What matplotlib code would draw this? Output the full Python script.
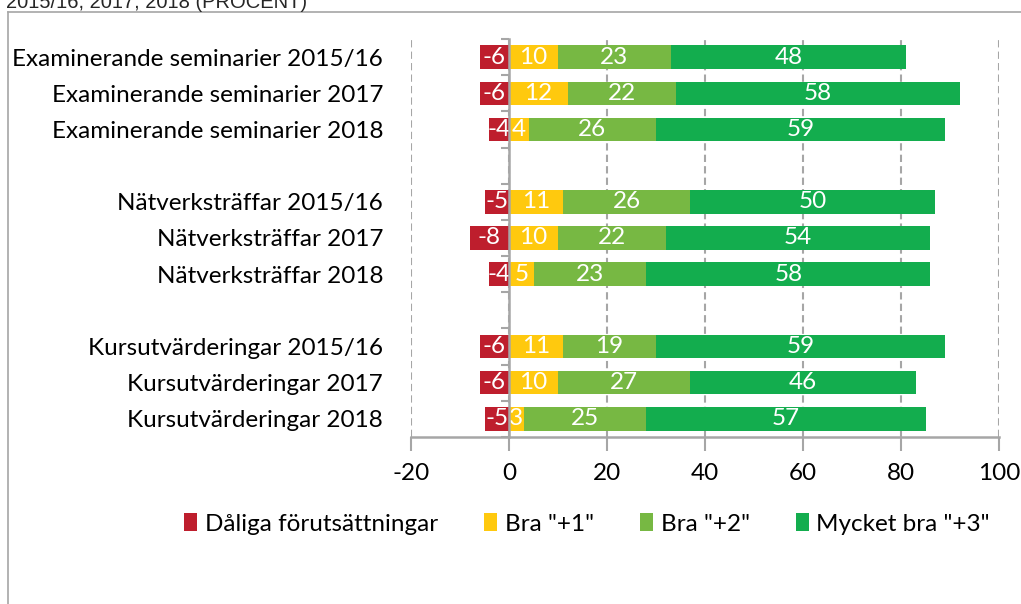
import matplotlib
matplotlib.use("Agg")
import matplotlib.pyplot as plt
from matplotlib.lines import Line2D
import numpy as np

categories = [
    "Examinerande seminarier 2015/16",
    "Examinerande seminarier 2017",
    "Examinerande seminarier 2018",
    "",
    "Nätverksträffar 2015/16",
    "Nätverksträffar 2017",
    "Nätverksträffar 2018",
    "",
    "Kursutvärderingar 2015/16",
    "Kursutvärderingar 2017",
    "Kursutvärderingar 2018",
]
daliga = [-6, -6, -4, None, -5, -8, -4, None, -6, -6, -5]
bra1 = [10, 12, 4, None, 11, 10, 5, None, 11, 10, 3]
bra2 = [23, 22, 26, None, 26, 22, 23, None, 19, 27, 25]
mycket = [48, 58, 59, None, 50, 54, 58, None, 59, 46, 57]
series_names = ["Dåliga förutsättningar", 'Bra "+1"', 'Bra "+2"', 'Mycket bra "+3"']
colors = ["#BE1E2D", "#FFC90E", "#77B843", "#13AD4E"]
xticks = [-20, 0, 20, 40, 60, 80, 100]
title = "2015/16, 2017, 2018 (PROCENT)"

FONT = ["Lato", "DejaVu Sans"]
plt.rcParams["font.family"] = FONT
plt.rcParams["text.color"] = "black"

FS = 17.5

fig = plt.figure(figsize=(10.21, 6.04), dpi=100)
ax = fig.add_axes([411/1021, 1-437/604, (999-411)/1021, (437-39)/604])

y = np.arange(len(categories))
valid = [i for i, v in enumerate(daliga) if v is not None]

def arr(lst):
    return np.array([lst[i] for i in valid], dtype=float)

yv = y[valid]
h = 0.65
d, b1, b2, m = arr(daliga), arr(bra1), arr(bra2), arr(mycket)
bars = []
bars.append(ax.barh(yv, d, height=h, color=colors[0], label=series_names[0], zorder=3))
left = np.zeros_like(b1)
for vals, c, name in [(b1, colors[1], series_names[1]), (b2, colors[2], series_names[2]), (m, colors[3], series_names[3])]:
    bars.append(ax.barh(yv, vals, left=left, height=h, color=c, label=name, zorder=3))
    left = left + vals

for bc in bars:
    ax.bar_label(bc, labels=[f"{v:g}" for v in bc.datavalues], label_type="center",
                 color="white", fontsize=FS, zorder=4)

ax.set_xlim(-20, 100)
ax.set_ylim(len(categories) - 0.5, -0.5)
ax.set_xticks(xticks)
ax.set_xticklabels([str(t) for t in xticks], fontsize=FS)
ax.tick_params(axis="x", direction="out", length=10, width=1.5, color="#A6A6A6", pad=9, labelcolor="black")
ax.set_yticks(y)
ax.set_yticklabels(categories, fontsize=FS)
ax.tick_params(axis="y", length=0, pad=20, labelcolor="black")

for s in ["top", "right", "left"]:
    ax.spines[s].set_visible(False)
ax.spines["bottom"].set_color("#A6A6A6")
ax.spines["bottom"].set_linewidth(1.8)

ax.grid(axis="x", color="#A6A6A6", linestyle=(0, (3.5, 2)), linewidth=1.5, zorder=0)
ax.set_axisbelow(True)

sec = ax.secondary_yaxis(1/6)
sec.set_yticks(np.arange(len(categories) + 1) - 0.5)
sec.set_yticklabels([])
sec.tick_params(axis="y", direction="out", length=6, width=1.5, color="#A6A6A6")
sec.spines["left"].set_color("#A6A6A6")
sec.spines["left"].set_linewidth(1.8)
sec.set_zorder(5)

ax.legend(loc="center", bbox_to_anchor=(587/1021, 1-524/604), bbox_transform=fig.transFigure,
          ncol=4, frameon=False, fontsize=FS, handlelength=0.55, handleheight=0.7,
          handletextpad=0.3, columnspacing=1.9)

fig.add_artist(Line2D([8/1021, 8/1021], [0, 1-12/604], color="#A6A6A6", linewidth=1.2, transform=fig.transFigure))
fig.add_artist(Line2D([8/1021, 1], [1-12/604, 1-12/604], color="#A6A6A6", linewidth=1.2, transform=fig.transFigure))
fig.text(6/1021, 1-8/604, title, fontsize=14.5, family=["Liberation Sans", "DejaVu Sans"],
         color="#262626", va="baseline", ha="left")

fig.savefig("out.png", dpi=100)
